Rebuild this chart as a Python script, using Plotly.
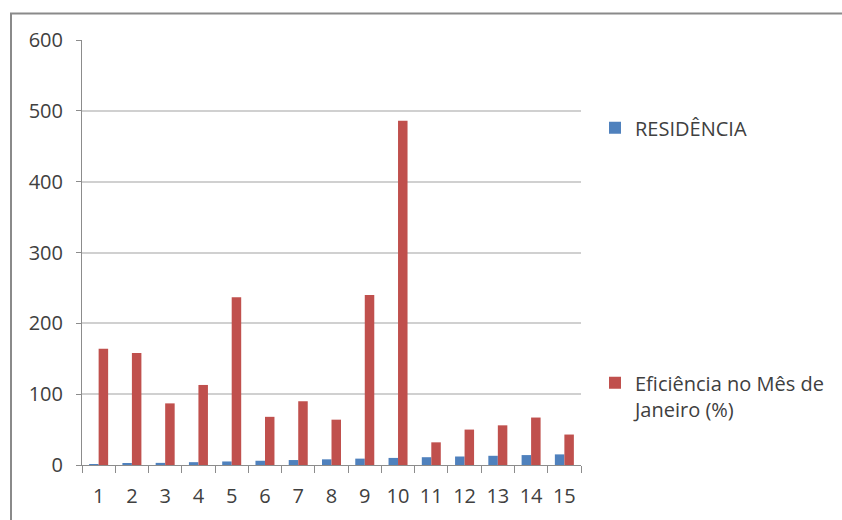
import plotly.graph_objects as go

# Residências 1-15 and their January efficiency
residencias = [str(i) for i in range(1, 16)]
residencia_vals = [1, 2, 3, 4, 5, 6, 7, 8, 9, 10, 11, 12, 13, 14, 15]
eficiencia_jan = [164, 158, 87, 113, 237, 68, 90, 64, 240, 486, 32, 50, 56, 67, 43]
y_ticks = [0, 100, 200, 300, 400, 500, 600]

BLUE = "#4F81BD"
RED = "#C0504D"
TEXT = "#404040"
FONT = "Open Sans"

fig = go.Figure()
fig.add_trace(go.Bar(
    x=residencias, y=residencia_vals, name="RESIDÊNCIA",
    marker=dict(color=BLUE, line=dict(width=0)), legendgroup="a",
))
fig.add_trace(go.Bar(
    x=residencias, y=eficiencia_jan, name="Eficiência no Mês de<br>Janeiro (%)",
    marker=dict(color=RED, line=dict(width=0)), legendgroup="b",
))

L, R, T, B = 82, 581, 39.5, 465.5
W, H = R - L, B - T

# chart-area frame
fig.add_shape(type="rect", xref="paper", yref="paper",
              x0=(11 - L) / W, x1=(900 - L) / W,
              y0=(B - 600) / H, y1=(B - 13) / H,
              line=dict(color="#8a8a8a", width=2), fillcolor="rgba(0,0,0,0)", layer="below")

fig.update_layout(
    width=842, height=520,
    margin=dict(l=L, r=842 - R, t=T, b=520 - B, pad=0, autoexpand=False),
    paper_bgcolor="white", plot_bgcolor="white",
    barmode="group", bargap=1.5 / 3.5, bargroupgap=0,
    font=dict(family=FONT, size=20, color=TEXT),
    hovermode=False,
    showlegend=True,
    legend=dict(
        x=(595 - L) / W, xanchor="left",
        y=(B - 108) / H, yanchor="top",
        traceorder="grouped", tracegroupgap=226,
        valign="top", itemwidth=30,
        font=dict(family=FONT, size=20, color=TEXT),
        bgcolor="rgba(0,0,0,0)",
    ),
    xaxis=dict(
        type="category", range=[-0.5, 14.5],
        showline=True, linecolor="#8c8c8c", linewidth=1,
        ticks="outside", tickson="boundaries", ticklen=7, tickcolor="#8c8c8c",
        showgrid=False, tickfont=dict(size=20, color=TEXT),
        tickangle=0, ticklabelstandoff=13,
    ),
    yaxis=dict(
        range=[0, 600], tickvals=y_ticks,
        showline=True, linecolor="#8c8c8c", linewidth=1,
        ticks="outside", ticklen=5, tickcolor="#8c8c8c",
        showgrid=True, gridcolor="#d0d0d0", gridwidth=1.5,
        zeroline=False, tickfont=dict(size=20, color=TEXT),
        ticklabelstandoff=9,
    ),
)

fig.write_html("out.html")
